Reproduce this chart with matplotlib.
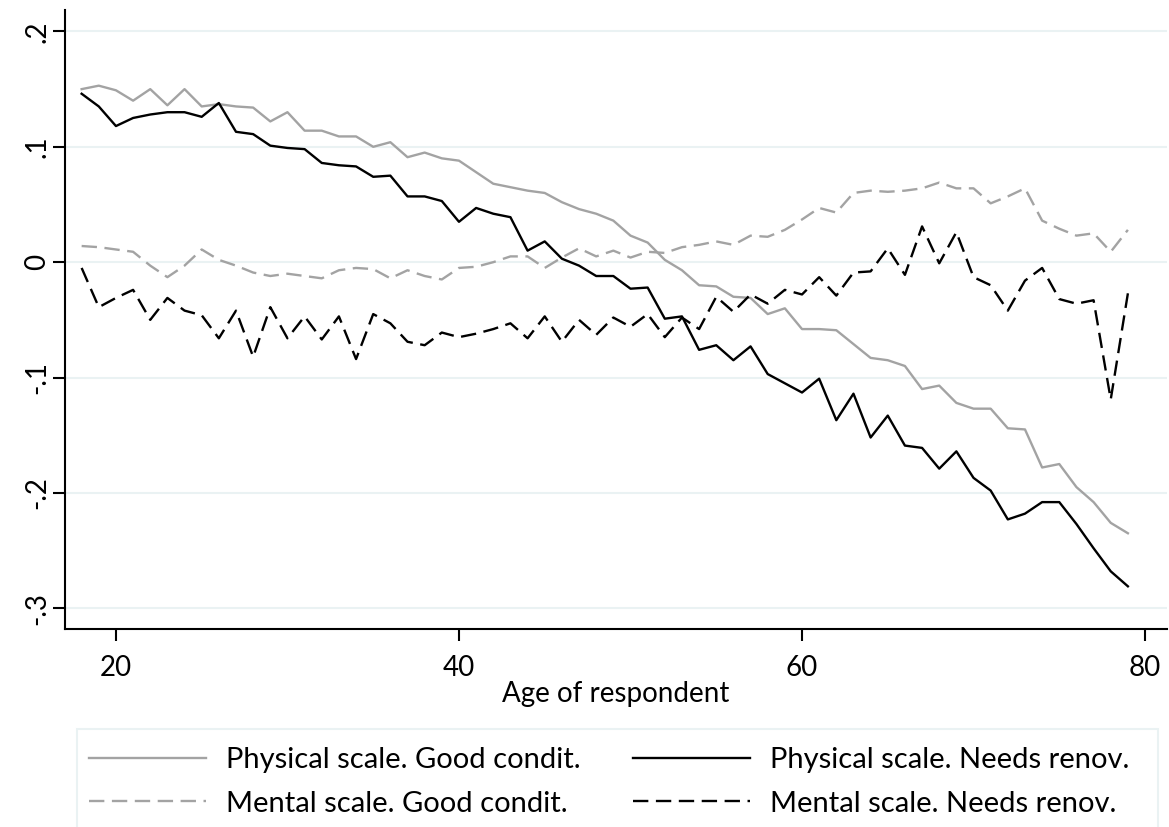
import matplotlib
matplotlib.use("Agg")
import matplotlib.pyplot as plt
from matplotlib.patches import Rectangle

plt.rcParams['font.family'] = ['Lato', 'DejaVu Sans']

ages = [18, 19, 20, 21, 22, 23, 24, 25, 26, 27, 28, 29, 30, 31, 32, 33, 34, 35, 36, 37,
        38, 39, 40, 41, 42, 43, 44, 45, 46, 47, 48, 49, 50, 51, 52, 53, 54, 55, 56, 57,
        58, 59, 60, 61, 62, 63, 64, 65, 66, 67, 68, 69, 70, 71, 72, 73, 74, 75, 76, 77,
        78, 79]

phys_good = [.150, .153, .149, .140, .150, .136, .150, .135, .137, .135, .134, .122, .130, .114, .114, .109,
             .109, .100, .104, .091, .095, .090, .088, .078, .068, .065, .062, .060, .052, .046,
             .042, .036, .023, .017, .002, -.007, -.020, -.021, -.030, -.031, -.045, -.040,
             -.058, -.058, -.059, -.071, -.083, -.085, -.090, -.110, -.107, -.122, -.127, -.127,
             -.144, -.145, -.178, -.175, -.195, -.208, -.226, -.235]

phys_renov = [.146, .135, .118, .125, .128, .130, .130, .126, .138, .113, .111, .101, .099, .098, .086, .084,
              .083, .074, .075, .057, .057, .053, .035, .047, .042, .039, .010, .018, .003, -.003,
              -.012, -.012, -.023, -.022, -.049, -.047, -.076, -.072, -.085, -.073, -.097, -.105,
              -.113, -.101, -.137, -.114, -.152, -.133, -.159, -.161, -.179, -.164, -.187, -.198,
              -.223, -.218, -.208, -.208, -.227, -.248, -.268, -.281]

ment_good = [.014, .013, .011, .009, -.003, -.013, -.003, .011, .002, -.003, -.009, -.012, -.010, -.012, -.014, -.007,
             -.005, -.006, -.014, -.007, -.012, -.015, -.005, -.004, .000, .005, .005, -.005, .004, .012,
             .005, .010, .004, .009, .008, .013, .015, .018, .015, .023, .022, .028,
             .037, .047, .043, .060, .062, .061, .062, .064, .069, .064, .064, .051,
             .057, .064, .036, .029, .023, .025, .009, .028]

ment_renov = [-.005, -.039, -.031, -.024, -.050, -.031, -.042, -.046, -.066, -.042, -.082, -.039, -.066, -.047, -.067, -.047,
              -.084, -.045, -.053, -.069, -.072, -.061, -.065, -.062, -.058, -.053, -.066, -.047, -.069, -.050,
              -.063, -.048, -.056, -.045, -.065, -.048, -.058, -.030, -.043, -.028, -.036, -.024,
              -.028, -.013, -.029, -.009, -.008, .012, -.011, .031, -.001, .026, -.013, -.020,
              -.042, -.016, -.005, -.032, -.036, -.033, -.119, -.027]

labels = ["Physical scale. Good condit.", "Mental scale. Good condit.",
          "Physical scale. Needs renov.", "Mental scale. Needs renov."]
yticks = [.2, .1, 0, -.1, -.2, -.3]
yticklabels = [".2", ".1", "0", "-.1", "-.2", "-.3"]
xticks = [20, 40, 60, 80]

gray = '#a3a3a3'
gridcol = '#eaf2f3'
W, H = 1169, 827

fig = plt.figure(figsize=(11.69, 8.27), dpi=100)
ax = fig.add_axes([65 / W, 1 - 629 / H, (1167 - 65) / W, (629 - 10) / H])

l1, = ax.plot(ages, phys_good, color=gray, lw=1.7)
l3, = ax.plot(ages, phys_renov, color='black', lw=1.7)
l2, = ax.plot(ages, ment_good, color=gray, lw=1.7, dashes=(6.5, 3.2))
l4, = ax.plot(ages, ment_renov, color='black', lw=1.7, dashes=(6.5, 3.2))

ax.set_xlim(17.03, 81.28)
ax.set_ylim(-.318, .2186)
ax.set_yticks(yticks)
ax.set_yticklabels(yticklabels, rotation=90, va='center')
ax.set_xticks(xticks)
ax.tick_params(axis='both', labelsize=20, length=8.5, width=1.5, color='black')
ax.tick_params(axis='x', pad=10)
ax.tick_params(axis='y', pad=2)
for y in yticks:
    ax.axhline(y, color=gridcol, lw=1.5, zorder=0)
ax.spines['top'].set_visible(False)
ax.spines['right'].set_visible(False)
ax.spines['left'].set_linewidth(1.5)
ax.spines['bottom'].set_linewidth(1.5)
ax.set_xlabel("Age of respondent", fontsize=20, labelpad=0)

# legend box runs off the bottom of the image
fig.patches.append(Rectangle((77 / W, -0.05), (1158 - 77) / W, 0.05 + (1 - 729 / H),
                             transform=fig.transFigure, facecolor='none',
                             edgecolor=gridcol, lw=1.5))
fig.legend([l1, l2, l3, l4], labels, ncol=2, loc='upper left',
           bbox_to_anchor=(89 / W, 1 - 747 / H), frameon=False, fontsize=21,
           handlelength=4.0, handletextpad=0.7, columnspacing=1.8,
           labelspacing=0.6, borderpad=0, borderaxespad=0)

fig.savefig("out.png", dpi=100)
